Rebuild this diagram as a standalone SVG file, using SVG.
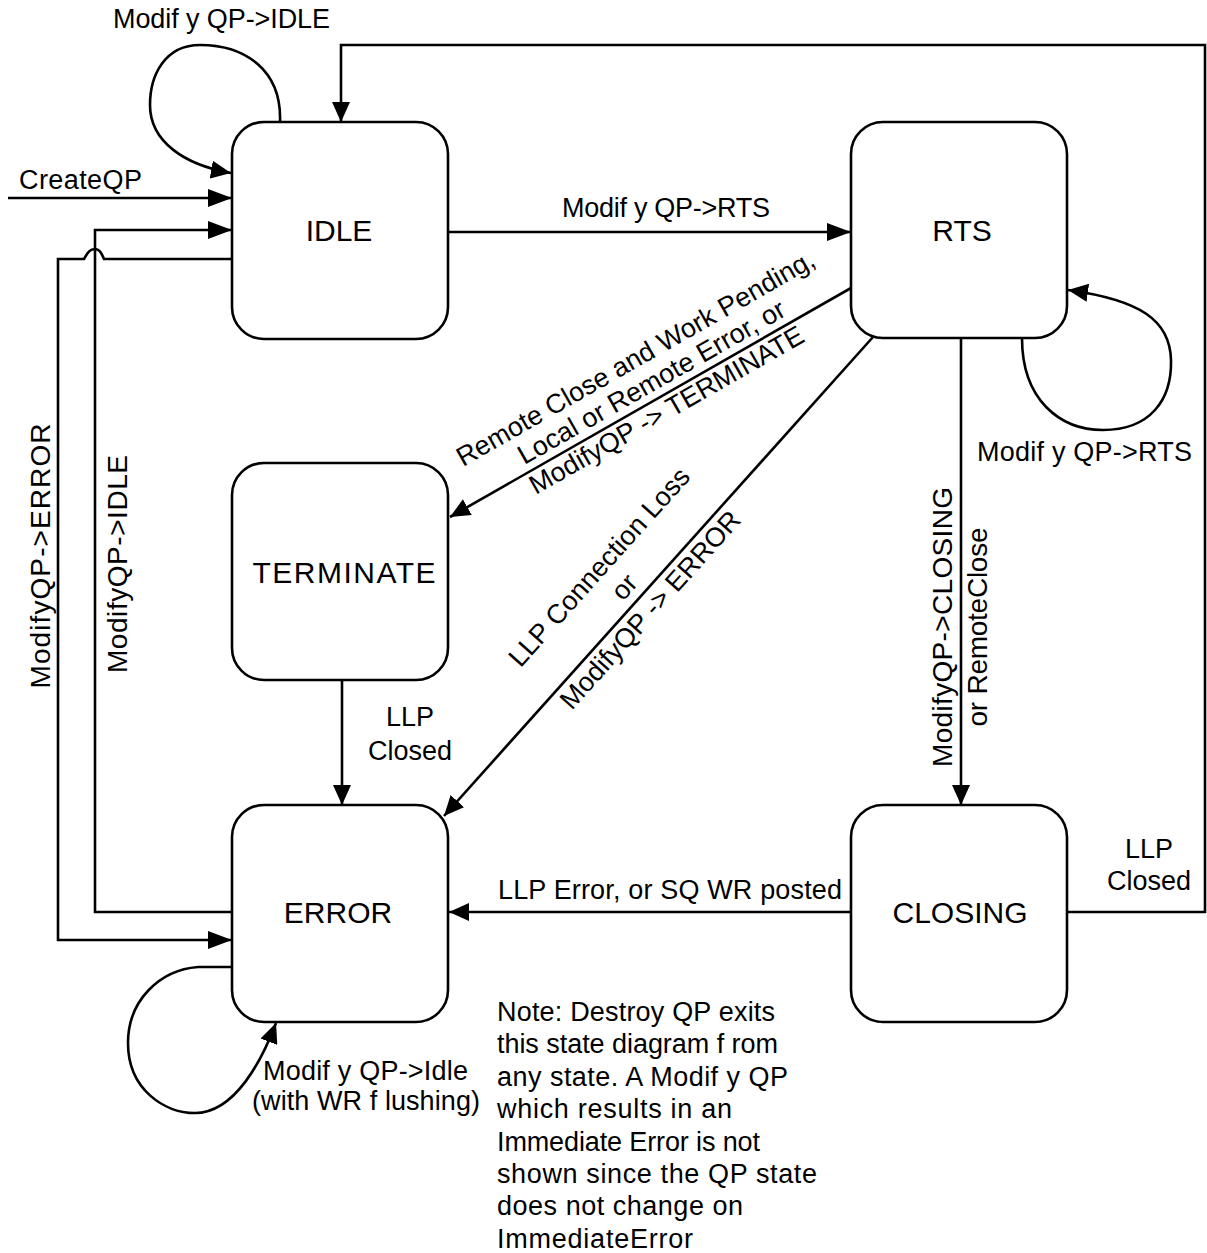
<svg xmlns="http://www.w3.org/2000/svg" width="1207" height="1253" viewBox="0 0 1207 1253">
  <defs>
    <!-- arrowheads: a longer one for the horizontal feeds, a compact one elsewhere -->
    <marker id="ah" markerUnits="userSpaceOnUse" markerWidth="24" markerHeight="18" refX="24" refY="9" orient="auto">
      <path d="M0,0 L24,9 L0,18 z" fill="#000"/>
    </marker>
    <marker id="a" markerUnits="userSpaceOnUse" markerWidth="20" markerHeight="18" refX="20" refY="9" orient="auto">
      <path d="M0,0 L20,9 L0,18 z" fill="#000"/>
    </marker>
  </defs>
  <style>
    .st rect { fill: #fff; stroke: #000; stroke-width: 2.6; }
    text { font-family: "Liberation Sans", Arial, Helvetica, sans-serif; fill: #000; }
    .node { font-size: 30px; text-anchor: middle; }
    .lbl { font-size: 27px; }
    .vl { font-size: 28px; text-anchor: middle; }
    .c { text-anchor: middle; }
    .edge { fill: none; stroke: #000; stroke-width: 2.6; }
  </style>

  <rect width="1207" height="1253" fill="#fff"/>

  <!-- states -->
  <g id="idle" class="st">
    <rect x="232" y="122" width="216" height="217" rx="32" ry="32"/>
    <text class="node" x="339" y="241">IDLE</text>
  </g>
  <g id="rts" class="st">
    <rect x="851" y="122" width="216" height="216" rx="32" ry="32"/>
    <text class="node" x="962" y="241">RTS</text>
  </g>
  <g id="terminate" class="st">
    <rect x="232" y="463" width="216" height="217" rx="32" ry="32"/>
    <text class="node" x="344" y="583" textLength="183" lengthAdjust="spacing">TERMINATE</text>
  </g>
  <g id="error" class="st">
    <rect x="232" y="805" width="216" height="217" rx="32" ry="32"/>
    <text class="node" x="338" y="923">ERROR</text>
  </g>
  <g id="closing" class="st">
    <rect x="851" y="805" width="216" height="217" rx="32" ry="32"/>
    <text class="node" x="960" y="923">CLOSING</text>
  </g>

  <!-- transitions -->
  <g id="connectors">
    <!-- IDLE self loop -->
    <path class="edge" marker-end="url(#a)" d="M280,122 C282,70 245,45 200,45 C165,45 150,75 150,105 C150,142 185,165 231,173"/>
    <!-- CreateQP -->
    <path class="edge" marker-end="url(#ah)" d="M8,198 H232"/>
    <!-- ERROR -> IDLE -->
    <path class="edge" marker-end="url(#ah)" d="M232,912 H95 V230 H232"/>
    <!-- IDLE -> ERROR, hopping over the line above -->
    <path class="edge" marker-end="url(#ah)" d="M232,259 H104 C101,252 99,249 95,249 C90,249 88,252 84,259 H58 V940 H232"/>
    <!-- IDLE -> RTS -->
    <path class="edge" marker-end="url(#ah)" d="M448,232 H851"/>
    <!-- CLOSING -> IDLE around the top -->
    <path class="edge" marker-end="url(#a)" d="M1067,912 H1205 V45 H341 V122"/>
    <!-- RTS -> TERMINATE -->
    <path class="edge" marker-end="url(#a)" d="M851,288 L450,517"/>
    <!-- RTS -> ERROR -->
    <path class="edge" marker-end="url(#a)" d="M873,337 L444,816"/>
    <!-- RTS self loop -->
    <path class="edge" marker-end="url(#a)" d="M1022,338 C1022,400 1060,430 1103,430 C1150,430 1172,400 1171,360 C1170,320 1140,300 1068,290"/>
    <!-- RTS -> CLOSING -->
    <path class="edge" marker-end="url(#a)" d="M961,338 V805"/>
    <!-- TERMINATE -> ERROR -->
    <path class="edge" marker-end="url(#a)" d="M342,680 V805"/>
    <!-- CLOSING -> ERROR -->
    <path class="edge" marker-end="url(#a)" d="M851,912 H449"/>
    <!-- ERROR self loop -->
    <path class="edge" marker-end="url(#a)" d="M232,967 H198 C160,970 128,1000 128,1043 C128,1090 165,1113 195,1113 C235,1113 262,1060 276,1023"/>
  </g>

  <!-- transition labels -->
  <g id="labels">
    <text class="lbl" x="113" y="28" textLength="217" lengthAdjust="spacing">Modif y QP-&gt;IDLE</text>
    <text class="lbl" x="19" y="189" textLength="123" lengthAdjust="spacing">CreateQP</text>
    <text class="lbl" x="562" y="217" textLength="208" lengthAdjust="spacing">Modif y QP-&gt;RTS</text>
    <text class="lbl" x="977" y="461" textLength="215" lengthAdjust="spacing">Modif y QP-&gt;RTS</text>

    <text class="lbl c" transform="translate(640,366) rotate(-29.7)">Remote Close and Work Pending,</text>
    <text class="lbl c" transform="translate(656,390) rotate(-29.7)">Local or Remote Error, or</text>
    <text class="lbl c" transform="translate(671,418) rotate(-29.7)">ModifyQP -&gt; TERMINATE</text>

    <text class="lbl c" transform="translate(606,573) rotate(-48.15)">LLP Connection Loss</text>
    <text class="lbl c" transform="translate(631,593) rotate(-48.15)">or</text>
    <text class="lbl c" transform="translate(657,616) rotate(-48.15)">ModifyQP -&gt; ERROR</text>

    <text class="vl" transform="translate(50,556) rotate(-90)" textLength="265" lengthAdjust="spacing">ModifyQP-&gt;ERROR</text>
    <text class="vl" transform="translate(127,564) rotate(-90)" textLength="218" lengthAdjust="spacing">ModifyQP-&gt;IDLE</text>
    <text class="vl" transform="translate(952,627) rotate(-90)" textLength="280" lengthAdjust="spacing">ModifyQP-&gt;CLOSING</text>
    <text class="vl" transform="translate(987,627) rotate(-90)" textLength="199" lengthAdjust="spacing">or RemoteClose</text>

    <text class="lbl c" x="410" y="726">LLP</text>
    <text class="lbl c" x="410" y="760">Closed</text>
    <text class="lbl c" x="1149" y="858">LLP</text>
    <text class="lbl c" x="1149" y="890">Closed</text>

    <text class="lbl" x="498" y="899" textLength="344" lengthAdjust="spacing">LLP Error, or SQ WR posted</text>

    <text class="lbl" x="263" y="1080" textLength="205" lengthAdjust="spacing">Modif y QP-&gt;Idle</text>
    <text class="lbl" x="252" y="1110" textLength="228" lengthAdjust="spacing">(with WR f lushing)</text>
  </g>

  <!-- note -->
  <g id="note" class="lbl">
    <text x="497" y="1021" textLength="278" lengthAdjust="spacing">Note: Destroy QP exits</text>
    <text x="497" y="1053" textLength="281" lengthAdjust="spacing">this state diagram f rom</text>
    <text x="497" y="1086" textLength="291" lengthAdjust="spacing">any state.  A Modif y QP</text>
    <text x="497" y="1118" textLength="235" lengthAdjust="spacing">which results in an</text>
    <text x="497" y="1151" textLength="263" lengthAdjust="spacing">Immediate Error is not</text>
    <text x="497" y="1183" textLength="320" lengthAdjust="spacing">shown since the QP state</text>
    <text x="497" y="1215" textLength="246" lengthAdjust="spacing">does not change on</text>
    <text x="497" y="1248" textLength="196" lengthAdjust="spacing">ImmediateError</text>
  </g>
</svg>
